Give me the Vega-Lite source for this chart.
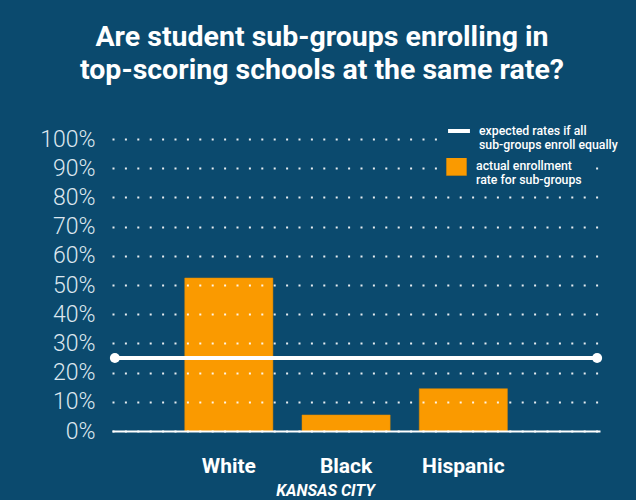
{
  "$schema": "https://vega.github.io/schema/vega-lite/v6.json",
  "width": 488,
  "height": 292,
  "autosize": {"type": "none"},
  "padding": {"left": 112, "top": 139, "right": 36, "bottom": 69},
  "background": "#0b4a6e",
  "config": {
    "view": {"stroke": null},
    "font": "Roboto",
    "legend": {
      "title": null, "orient": "none", "fillColor": "#0b4a6e", "padding": 6, "zindex": 2,
      "labelOffset": 7, "labelFont": "Roboto", "labelFontSize": 12.3, "labelFontWeight": 500,
      "labelColor": "#ffffff", "labelLimit": 300, "symbolSize": 400, "symbolOpacity": 1
    }
  },
  "title": {
    "text": ["Are student sub-groups enrolling in", "top-scoring schools at the same rate?"],
    "font": "Roboto",
    "fontSize": 28.5,
    "fontWeight": "bold",
    "color": "#ffffff",
    "lineHeight": 33,
    "frame": "group",
    "anchor": "middle",
    "dx": -34,
    "offset": 28
  },
  "encoding": {
    "y": {
      "field": "rate", "type": "quantitative",
      "scale": {"domain": [0, 1]},
      "axis": {
        "values": [0, 0.1, 0.2, 0.3, 0.4, 0.5, 0.6, 0.7, 0.8, 0.9, 1],
        "format": ".0%", "title": null, "labelOverlap": false,
        "labelFont": "Roboto", "labelFontSize": 23, "labelFontWeight": 300, "labelColor": "#dde7ef",
        "labelPadding": 17, "ticks": false, "domain": false,
        "grid": true, "gridColor": "#ffffff", "gridWidth": 2, "gridDash": [2, 10.4], "gridOpacity": 0.9,
        "zindex": 1
      }
    }
  },
  "layer": [
    {
      "data": {"values": [
        {"group": "White", "rate": 0.524},
        {"group": "Black", "rate": 0.055},
        {"group": "Hispanic", "rate": 0.145}
      ]},
      "mark": {"type": "bar", "stroke": "#e08a00", "strokeWidth": 0.5},
      "encoding": {
        "x": {
          "field": "group", "type": "nominal", "sort": null,
          "scale": {"paddingInner": 0.248, "paddingOuter": 0.705, "align": 0.44},
          "axis": {
            "orient": "bottom",
            "labelAngle": 0, "labelFont": "Roboto", "labelFontSize": 21, "labelFontWeight": "bold",
            "labelColor": "#ffffff", "labelPadding": 24, "ticks": false,
            "domain": true, "domainColor": "#ffffff", "domainWidth": 2,
            "title": "KANSAS CITY", "titleFont": "Roboto", "titleFontSize": 16, "titleFontWeight": "bold",
            "titleFontStyle": "italic", "titleColor": "#ffffff", "titlePadding": 6, "titleX": 213,
            "zindex": 1
          }
        },
        "fill": {
          "datum": "actual",
          "scale": {"domain": ["actual"], "range": ["#fa9a00"]},
          "legend": {
            "legendX": 328, "legendY": 10,
            "labelExpr": "['actual enrollment', 'rate for sub-groups']",
            "symbolStrokeColor": "#e08a00", "symbolStrokeWidth": 0.5, "labelOffset": 9
          }
        }
      }
    },
    {
      "data": {"values": [
        {"pos": 0, "rate": 0.25},
        {"pos": 1, "rate": 0.25}
      ]},
      "mark": {"type": "line", "strokeWidth": 4},
      "encoding": {
        "x": {"field": "pos", "type": "quantitative", "scale": {"domain": [-0.006, 1.006]}, "axis": null},
        "stroke": {
          "datum": "expected",
          "scale": {"domain": ["expected"], "range": ["#ffffff"]},
          "legend": {
            "legendX": 328, "legendY": -27,
            "labelExpr": "['expected rates if all', 'sub-groups enroll equally']",
            "symbolStrokeWidth": 4, "symbolSize": 480, "labelOffset": 7
          }
        }
      }
    },
    {
      "data": {"values": [
        {"pos": 0, "rate": 0.25},
        {"pos": 1, "rate": 0.25}
      ]},
      "mark": {"type": "point", "filled": true, "size": 100, "color": "#ffffff", "opacity": 1},
      "encoding": {
        "x": {"field": "pos", "type": "quantitative", "scale": {"domain": [-0.006, 1.006]}, "axis": null}
      }
    }
  ],
  "resolve": {"scale": {"x": "independent"}}
}
